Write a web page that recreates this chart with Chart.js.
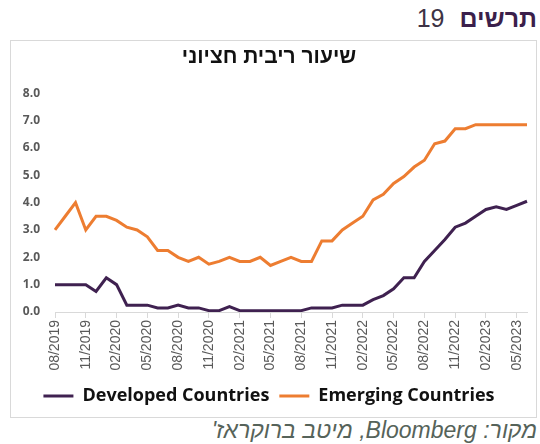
<!DOCTYPE html>
<html>
<head>
<meta charset="utf-8">
<script src="https://cdn.jsdelivr.net/npm/chart.js@4.4.0/dist/chart.umd.min.js"></script>
<style>
  body { margin: 0; width: 540px; height: 444px; background: #fff; position: relative; overflow: hidden; font-family: "Liberation Sans", Arial, sans-serif; }
  #hdr { position: absolute; right: 3px; top: 4px; font-size: 25px; direction: rtl; color: #3d3345; font-family: Arial, "Liberation Sans", sans-serif; }
  #hdr b { color: #3b1f4b; margin-left: 15px; }
  #box { position: absolute; left: 10px; top: 40px; width: 527px; height: 378px; border: 1px solid #d9d9d9; box-sizing: border-box; }
  #src { position: absolute; right: 3px; top: 417px; font-size: 23px; font-style: italic; direction: rtl; color: #56635a; }
</style>
</head>
<body>
<div id="hdr"><b>תרשים</b>19</div>
<div id="box"><canvas id="chart" width="525" height="376"></canvas></div>
<div id="src">מקור: Bloomberg, מיטב ברוקראז'</div>
<script>
const months = ['08/2019','09/2019','10/2019','11/2019','12/2019','01/2020','02/2020','03/2020','04/2020','05/2020','06/2020','07/2020',
  '08/2020','09/2020','10/2020','11/2020','12/2020','01/2021','02/2021','03/2021','04/2021','05/2021','06/2021','07/2021',
  '08/2021','09/2021','10/2021','11/2021','12/2021','01/2022','02/2022','03/2022','04/2022','05/2022','06/2022','07/2022',
  '08/2022','09/2022','10/2022','11/2022','12/2022','01/2023','02/2023','03/2023','04/2023','05/2023','06/2023'];

const developed = [1.0,1.0,1.0,1.0,0.75,1.25,1.0,0.25,0.25,0.25,0.15,0.15,
  0.25,0.15,0.15,0.05,0.05,0.2,0.05,0.05,0.05,0.05,0.05,0.05,
  0.05,0.15,0.15,0.15,0.25,0.25,0.25,0.45,0.6,0.85,1.25,1.25,
  1.85,2.25,2.65,3.1,3.25,3.5,3.75,3.85,3.75,3.9,4.05];

const emerging = [3.0,3.5,4.0,3.0,3.5,3.5,3.35,3.1,3.0,2.75,2.25,2.25,
  2.0,1.85,2.0,1.75,1.85,2.0,1.85,1.85,2.0,1.7,1.85,2.0,
  1.85,1.85,2.6,2.6,3.0,3.25,3.5,4.1,4.3,4.7,4.95,5.3,
  5.55,6.15,6.25,6.7,6.7,6.85,6.85,6.85,6.85,6.85,6.85];

const purple = '#3f2150';
const orange = '#ed7d31';

new Chart(document.getElementById('chart'), {
  type: 'line',
  data: {
    labels: months,
    datasets: [
      { label: 'Developed Countries', data: developed, borderColor: purple, backgroundColor: purple, borderWidth: 3, pointRadius: 0, tension: 0 },
      { label: 'Emerging Countries', data: emerging, borderColor: orange, backgroundColor: orange, borderWidth: 3, pointRadius: 0, tension: 0 }
    ]
  },
  options: {
    responsive: false,
    animation: false,
    layout: { padding: { left: 0, right: 9, top: 0, bottom: 2 } },
    plugins: {
      title: {
        display: true,
        text: 'שיעור ריבית חציוני',
        color: '#111',
        font: { family: 'Liberation Sans', size: 21, weight: 'bold' },
        padding: { top: 4, bottom: 23 }
      },
      legend: {
        position: 'bottom',
        labels: {
          usePointStyle: true,
          pointStyle: 'line',
          pointStyleWidth: 30,
          color: '#111',
          padding: 10,
          font: { family: 'Open Sans', size: 18, weight: 'bold' }
        }
      },
      tooltip: { enabled: false }
    },
    scales: {
      x: {
        afterFit: s => { s.height = 65; },
        grid: { drawOnChartArea: false, tickLength: 6, color: '#d9d9d9' },
        border: { color: '#d9d9d9' },
        ticks: {
          autoSkip: false,
          minRotation: 90,
          maxRotation: 90,
          padding: 2,
          color: '#595959',
          font: { family: 'Liberation Sans', size: 14 },
          callback: (v, i) => (i % 3 === 0 ? months[i] : null)
        }
      },
      y: {
        min: 0,
        max: 8,
        afterFit: s => { s.width = 44; },
        grid: { display: false },
        border: { display: false },
        ticks: {
          stepSize: 1,
          padding: 7,
          color: '#595959',
          font: { family: 'Open Sans', size: 12, weight: 'bold' },
          callback: v => v.toFixed(1)
        }
      }
    }
  }
});
</script>
</body>
</html>
